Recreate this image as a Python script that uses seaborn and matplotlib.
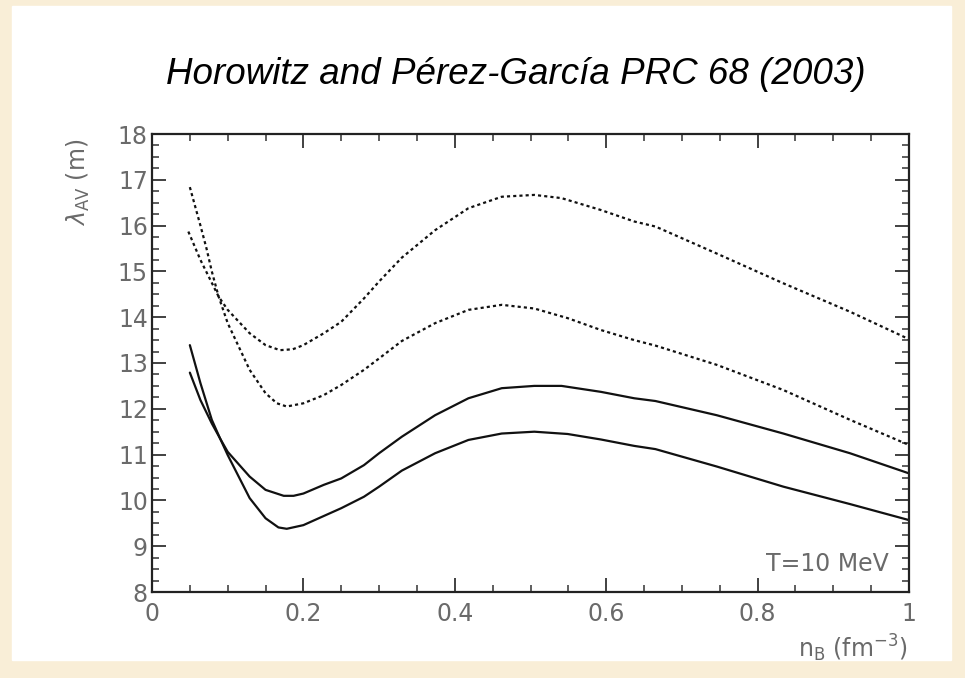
import matplotlib
matplotlib.use("Agg")
import matplotlib.pyplot as plt
import seaborn as sns
import pandas as pd
from matplotlib.ticker import MultipleLocator
from matplotlib.patches import Rectangle

# Mean free path curves (n_B in fm^-3, lambda in m)
# dotted curve that starts high and crosses to the lower branch
dot1_x = [0.05, 0.057, 0.064, 0.072, 0.079, 0.088, 0.10, 0.129, 0.15, 0.165, 0.178, 0.20, 0.227, 0.25,
          0.28, 0.30, 0.33, 0.374, 0.418, 0.462, 0.505, 0.549, 0.593, 0.637, 0.665, 0.746, 0.834, 0.922, 1.0]
dot1_y = [16.84, 16.42, 16.0, 15.5, 15.0, 14.45, 13.87, 12.85, 12.34, 12.12, 12.05, 12.12, 12.30, 12.52,
          12.85, 13.10, 13.48, 13.87, 14.16, 14.27, 14.19, 13.98, 13.72, 13.50, 13.38, 12.96, 12.41, 11.76, 11.21]
# dotted curve that starts lower and ends as the upper branch
dot2_x = [0.048, 0.064, 0.079, 0.088, 0.10, 0.129, 0.15, 0.169, 0.186, 0.20, 0.227, 0.25, 0.28, 0.30,
          0.33, 0.374, 0.418, 0.462, 0.505, 0.541, 0.593, 0.637, 0.665, 0.746, 0.834, 0.922, 1.0]
dot2_y = [15.87, 15.25, 14.75, 14.45, 14.16, 13.65, 13.39, 13.28, 13.30, 13.39, 13.65, 13.90, 14.41, 14.78,
          15.30, 15.90, 16.38, 16.63, 16.67, 16.60, 16.34, 16.09, 15.98, 15.39, 14.74, 14.12, 13.52]
# solid curves
sol1_x = [0.05, 0.064, 0.079, 0.09, 0.10, 0.129, 0.15, 0.167, 0.178, 0.20, 0.227, 0.25, 0.28, 0.30,
          0.33, 0.374, 0.418, 0.462, 0.505, 0.549, 0.593, 0.637, 0.665, 0.746, 0.834, 0.922, 1.0]
sol1_y = [13.39, 12.56, 11.76, 11.35, 10.99, 10.05, 9.61, 9.41, 9.38, 9.46, 9.66, 9.83, 10.08, 10.30,
          10.65, 11.03, 11.32, 11.46, 11.50, 11.45, 11.33, 11.19, 11.12, 10.74, 10.30, 9.92, 9.57]
sol2_x = [0.05, 0.064, 0.079, 0.09, 0.10, 0.129, 0.15, 0.174, 0.187, 0.20, 0.227, 0.25, 0.28, 0.30,
          0.33, 0.374, 0.418, 0.462, 0.505, 0.541, 0.593, 0.637, 0.665, 0.746, 0.834, 0.922, 1.0]
sol2_y = [12.79, 12.19, 11.68, 11.35, 11.06, 10.52, 10.23, 10.10, 10.10, 10.15, 10.34, 10.48, 10.77, 11.03,
          11.39, 11.86, 12.23, 12.45, 12.50, 12.50, 12.37, 12.23, 12.17, 11.86, 11.46, 11.03, 10.59]

sns.set_style("ticks")
plt.rcParams['font.family'] = ['DejaVu Sans']

fig = plt.figure(figsize=(9.65, 6.78), dpi=100)
fig.patch.set_facecolor('#f9eed7')
# white sheet behind the plot
fig.add_artist(Rectangle((12 / 965, 1 - 660 / 678), 939 / 965, 654 / 678,
                         transform=fig.transFigure, color='white', zorder=-1))
ax = fig.add_axes([152 / 965, 1 - 592 / 678, 757 / 965, 458 / 678])

dotted = (0, (1.4, 1.4))
for xs, ys, ls in [(dot1_x, dot1_y, dotted), (dot2_x, dot2_y, dotted),
                   (sol1_x, sol1_y, '-'), (sol2_x, sol2_y, '-')]:
    d = pd.DataFrame({'n': xs, 'lam': ys})
    sns.lineplot(data=d, x='n', y='lam', ax=ax, color='#111111', linestyle=ls,
                 linewidth=1.6, sort=False)

ax.set_xlim(0, 1)
ax.set_ylim(8, 18)
ax.xaxis.set_major_locator(MultipleLocator(0.2))
ax.xaxis.set_minor_locator(MultipleLocator(0.05))
ax.yaxis.set_major_locator(MultipleLocator(1))
ax.yaxis.set_minor_locator(MultipleLocator(0.25))
ax.set_xticks([0, 0.2, 0.4, 0.6, 0.8, 1.0])
ax.set_xticklabels(['0', '0.2', '0.4', '0.6', '0.8', '1'])
ax.tick_params(which='both', direction='in', top=True, right=True, color='#333333',
               labelcolor='#6a6a6a', labelsize=17)
ax.tick_params(which='major', length=10, width=1.3)
ax.tick_params(which='minor', length=5, width=1.1)
ax.tick_params(axis='x', pad=7)
ax.tick_params(axis='y', pad=3)
for sp in ax.spines.values():
    sp.set_linewidth(1.6)
    sp.set_color('#222222')

ax.set_xlabel(r'n$_{\rm B}$ (fm$^{-3}$)', loc='right', fontsize=17, color='#6a6a6a')
ax.xaxis.set_label_coords(0.998, -0.088)
ax.set_ylabel(r'$\lambda_{\rm AV}$ (m)', loc='top', fontsize=17, color='#6a6a6a')
ax.yaxis.set_label_coords(-0.079, 0.99)

ax.text(0.9736, 0.0465, 'T=10 MeV', transform=ax.transAxes, ha='right', va='baseline',
        fontsize=17, color='#6a6a6a')

fig.text(516 / 965, 1 - 84 / 678, 'Horowitz and Pérez-García PRC 68 (2003)',
         ha='center', va='baseline', fontsize=26.5, style='italic',
         family=['Liberation Sans', 'DejaVu Sans'], color='black')

fig.savefig('out.png', dpi=100, facecolor=fig.get_facecolor())
